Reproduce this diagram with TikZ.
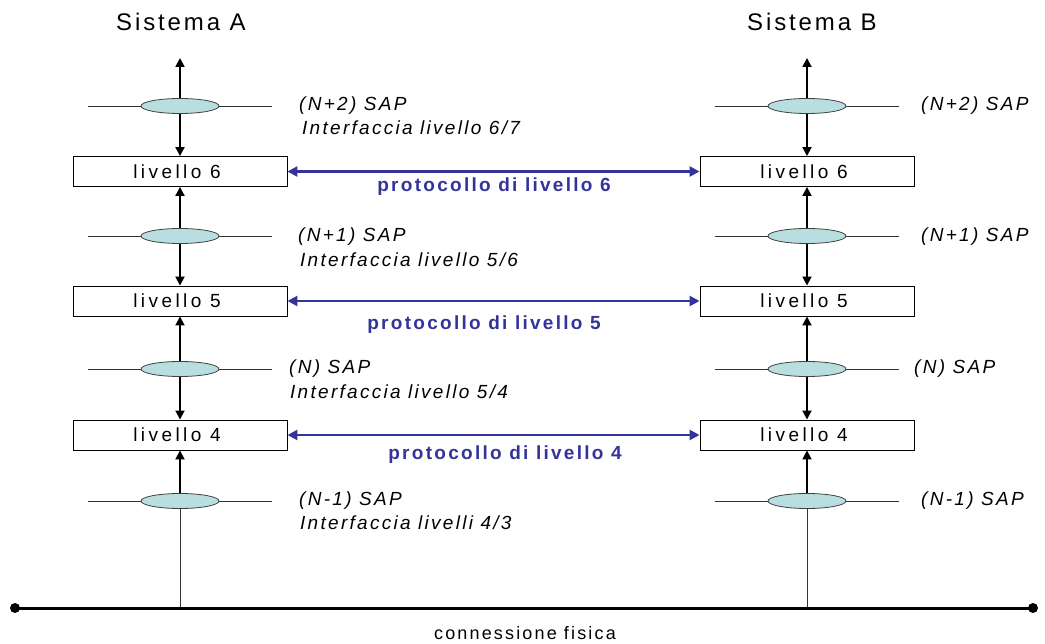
\documentclass[tikz,border=0pt]{standalone}
\usepackage{fontspec}
\setmainfont{Liberation Sans}
\newfontfamily\ls[LetterSpace=12]{Liberation Sans}
\newfontfamily\lsw[LetterSpace=18]{Liberation Sans}
\usetikzlibrary{shapes.geometric,arrows.meta}
\definecolor{protoblue}{RGB}{51,51,153}
\definecolor{sapfill}{RGB}{184,222,224}
\begin{document}
\begin{tikzpicture}[x=1pt,y=-1pt,
  layerbox/.style={draw, line width=0.9pt, fill=white, minimum width=214pt, minimum height=30pt, inner sep=0pt, font=\lsw\fontsize{19}{22}\selectfont},
  sap/.style={ellipse, draw=black!75, line width=0.8pt, fill=sapfill, minimum width=78pt, minimum height=15pt, inner sep=0pt},
  thin line/.style={draw, line width=0.8pt, black!80},
  varrow/.style={line width=1.8pt, {Triangle[length=9pt,width=9pt]}-{Triangle[length=9pt,width=9pt]}},
  uparrow/.style={line width=1.8pt, -{Triangle[length=9pt,width=9pt]}},
  proto/.style={draw=protoblue, line width=2.6pt, {Triangle[length=10pt,width=10pt]}-{Triangle[length=10pt,width=10pt]}},
  protolabel/.style={text=protoblue, font=\ls\fontsize{19}{22}\selectfont\bfseries},
  saplabel/.style={anchor=west, inner sep=0pt, font=\ls\fontsize{19}{22}\selectfont\itshape},
  title/.style={font=\ls\fontsize{24}{28}\selectfont},
  dot/.style={circle, fill=black, minimum size=10pt, inner sep=0pt}
]
\useasboundingbox (0,0) rectangle (1045,644);

% titles
\node[title] (titA) at (181,22) {Sistema A};
\node[title] (titB) at (812,22) {Sistema B};

% boxes
\foreach \s/\x in {A/180,B/807}{
  \node[layerbox] (L6\s) at (\x,171.5) {livello 6\hspace*{6pt}};
  \node[layerbox] (L5\s) at (\x,301) {livello 5\hspace*{6pt}};
  \node[layerbox] (L4\s) at (\x,435) {livello 4\hspace*{6pt}};
  \coordinate (top\s) at (\x,58);
  \coordinate (S7\s) at (\x,106);
  \coordinate (S6\s) at (\x,236);
  \coordinate (S5\s) at (\x,369);
  \coordinate (S4\s) at (\x,501);
  \coordinate (bot\s) at (\x,608);
  \foreach \r in {7,6,5,4}{
    \draw[thin line] ([xshift=-92pt]S\r\s) -- ([xshift=92pt]S\r\s);
  }
  \draw[varrow] (top\s) -- (L6\s.north);
  \draw[varrow] (L6\s.south) -- (L5\s.north);
  \draw[varrow] (L5\s.south) -- (L4\s.north);
  \draw[uparrow] (S4\s) -- (L4\s.south);
  \draw[thin line] (S4\s) -- (bot\s);
  \foreach \r in {7,6,5,4}{
    \node[sap] (E\r\s) at (S\r\s) {};
  }
}

% protocol arrows
\draw[proto] (L6A.east) -- (L6B.west);
\draw[proto] (L5A.east) -- (L5B.west);
\draw[proto] (L4A.east) -- (L4B.west);
\node[protolabel] (P6) at (494,187) {protocollo di livello 6};
\node[protolabel] (P5) at (484,325) {protocollo di livello 5};
\node[protolabel] (P4) at (505,455) {protocollo di livello 4};

% SAP labels, system A
\node[saplabel] (a7) at (299,106) {(N+2) SAP};
\node[saplabel] (a7i) at (302,128) {Interfaccia livello 6/7};
\node[saplabel] (a6) at (298,237) {(N+1) SAP};
\node[saplabel] (a6i) at (300,260) {Interfaccia livello 5/6};
\node[saplabel] (a5) at (289,369) {(N) SAP};
\node[saplabel] (a5i) at (290,392) {Interfaccia livello 5/4};
\node[saplabel] (a4) at (299,501) {(N-1) SAP};
\node[saplabel] (a4i) at (300,523) {Interfaccia livelli 4/3};
% SAP labels, system B
\node[saplabel] (b7) at (921,106) {(N+2) SAP};
\node[saplabel] (b6) at (921,237) {(N+1) SAP};
\node[saplabel] (b5) at (914,369) {(N) SAP};
\node[saplabel] (b4) at (921,501) {(N-1) SAP};

% physical connection
\node[dot] (d1) at (15,608) {};
\node[dot] (d2) at (1033,608) {};
\draw[line width=3pt] (d1.center) -- (d2.center);
\node[font=\ls\fontsize{18}{21}\selectfont] (cf) at (525,633) {connessione fisica};
\end{tikzpicture}
\end{document}
